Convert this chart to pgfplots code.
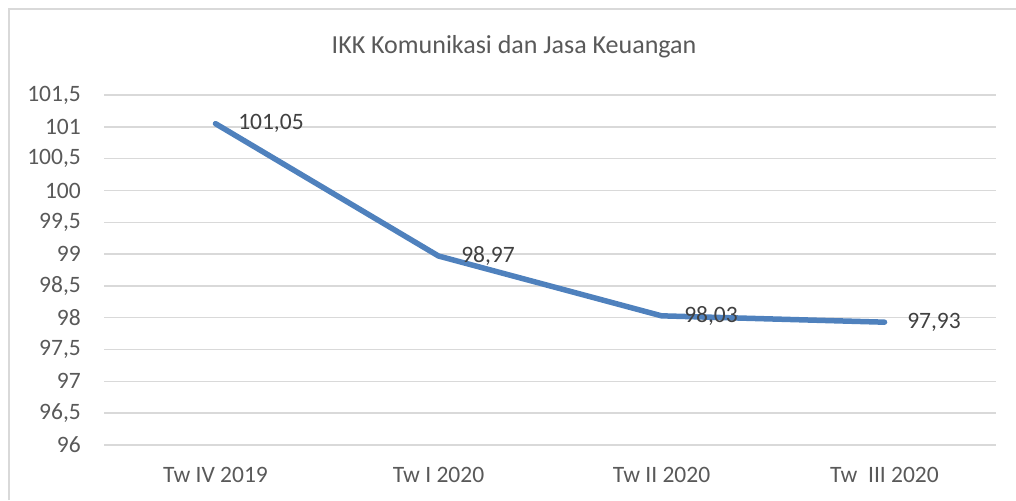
\documentclass[border=0pt]{standalone}
\usepackage{pgfplots}
\pgfplotsset{compat=1.18}
\usepackage{fontspec}
\setmainfont{Carlito}
\definecolor{serie}{RGB}{79,129,189}
\definecolor{gridc}{RGB}{217,217,217}
\definecolor{txt}{RGB}{89,89,89}
\definecolor{lbl}{RGB}{64,64,64}
\begin{document}
\begin{tikzpicture}[x=1pt,y=1pt]
\useasboundingbox (0,0) rectangle (1016,-500);
\draw[gridc, line width=1.5pt] (9,-500) -- (9,-9) -- (1016,-9);
\node[txt, font=\fontsize{26}{30}\selectfont, anchor=base, inner sep=0pt] at (514,-54) {IKK Komunikasi dan Jasa Keuangan};
\begin{axis}[
  at={(104pt,-445pt)}, anchor=south west,
  scale only axis, width=892pt, height=350pt,
  xmin=-0.5, xmax=3.5, ymin=96, ymax=101.5,
  xtick={0,1,2,3},
  xticklabels={Tw IV 2019, Tw I 2020, Tw II 2020, Tw\ \ III 2020},
  ytick={96,96.5,97,97.5,98,98.5,99,99.5,100,100.5,101,101.5},
  axis line style={draw=none},
  major tick length=0pt,
  ymajorgrids,
  grid style={gridc, line width=1.5pt},
  /pgf/number format/.cd, use comma, fixed, precision=1, assume math mode=true,
  /pgfplots/.cd,
  yticklabel style={txt, font=\fontsize{23.5}{28}\selectfont, anchor=east, inner sep=0pt, xshift=-23pt},
  xticklabel style={txt, font=\fontsize{23.5}{28}\selectfont, anchor=north, inner sep=0pt, yshift=-22pt},
  nodes near coords,
  point meta=explicit symbolic,
  every node near coord/.append style={lbl, font=\fontsize{23.5}{28}\selectfont, anchor=west, inner sep=0pt, xshift=20pt},
]
\addplot[serie, line width=5.5pt, line cap=round, line join=round, mark=none]
  coordinates {(0,101.05) [101,05] (1,98.97) [98,97] (2,98.03) [98,03] (3,97.93) [97,93]};
\end{axis}
\end{tikzpicture}
\end{document}
